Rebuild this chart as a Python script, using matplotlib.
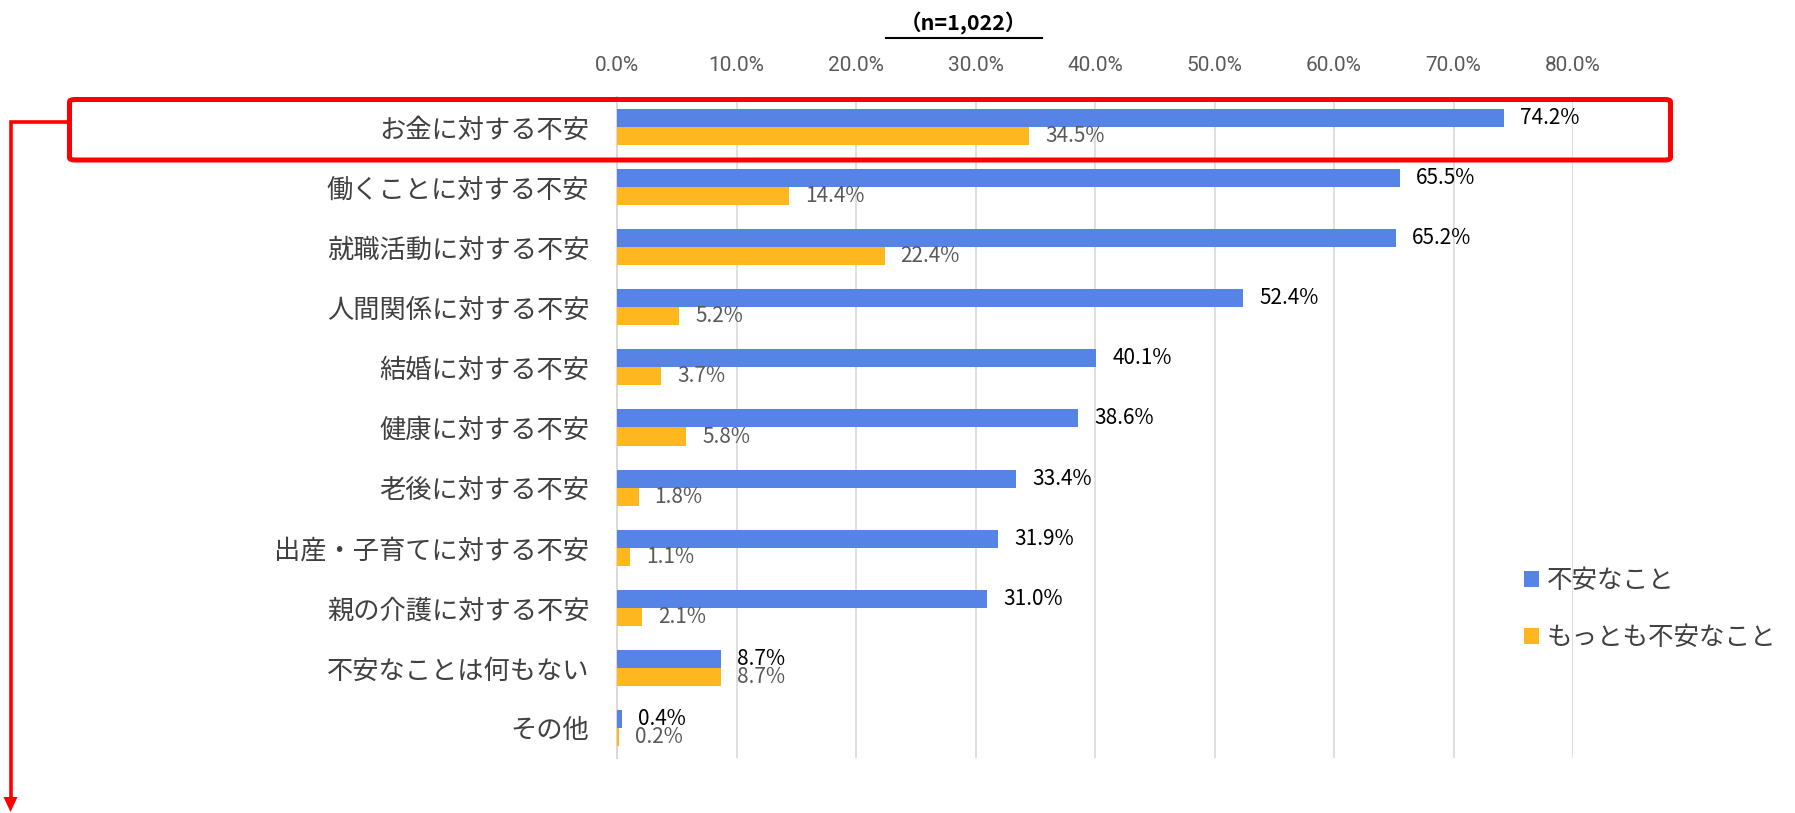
import matplotlib
matplotlib.use("Agg")
import matplotlib.pyplot as plt
import numpy as np
from matplotlib.patches import FancyBboxPatch, Polygon
from matplotlib.lines import Line2D

categories = ["お金に対する不安", "働くことに対する不安", "就職活動に対する不安", "人間関係に対する不安",
              "結婚に対する不安", "健康に対する不安", "老後に対する不安", "出産・子育てに対する不安",
              "親の介護に対する不安", "不安なことは何もない", "その他"]
anxious = [74.2, 65.5, 65.2, 52.4, 40.1, 38.6, 33.4, 31.9, 31.0, 8.7, 0.4]
most_anxious = [34.5, 14.4, 22.4, 5.2, 3.7, 5.8, 1.8, 1.1, 2.1, 8.7, 0.2]
series_names = ["不安なこと", "もっとも不安なこと"]
xticks = [0, 10, 20, 30, 40, 50, 60, 70, 80]
title = "（n=1,022）"

W, H = 1795, 813
DPI = 100
plt.rcParams['font.family'] = ['Noto Sans CJK JP', 'DejaVu Sans']

fig = plt.figure(figsize=(W / DPI, H / DPI), dpi=DPI)

def fx(x):
    return x / W

def fy(y):
    return 1 - y / H

ax_left, ax_right, ax_top, ax_bottom = 617, 1573, 97, 758
ax = fig.add_axes([fx(ax_left), fy(ax_bottom), (ax_right - ax_left) / W, (ax_bottom - ax_top) / H])

BLUE = "#5683E6"
ORANGE = "#FEB71F"
bh = 0.30
y = np.arange(len(categories))
b1 = ax.barh(y - bh / 2, anxious, height=bh, color=BLUE, label=series_names[0], zorder=3)
b2 = ax.barh(y + bh / 2, most_anxious, height=bh, color=ORANGE, label=series_names[1], zorder=3)

ax.set_xlim(0, 80)
ax.set_ylim(len(categories) - 0.5, -0.5)
ax.set_xticks(xticks)
ax.set_xticklabels([f"{v:.1f}%" for v in xticks], family=['Roboto'], fontsize=15, color="#595959")
ax.xaxis.tick_top()
ax.tick_params(axis='x', length=0, pad=16)
ax.set_yticks(y)
ax.set_yticklabels(categories, fontsize=18.9, color="#404040")
ax.tick_params(axis='y', length=0, pad=20)
ax.grid(axis='x', color="#D9D9D9", linewidth=1.2, zorder=0)
for s in ['top', 'right', 'bottom']:
    ax.spines[s].set_visible(False)
ax.spines['left'].set_color("#D9D9D9")
ax.spines['left'].set_linewidth(1.4)

for rect, v in zip(b1, anxious):
    ax.annotate(f"{v:.1f}%", (v, rect.get_y() + rect.get_height() / 2), xytext=(11.5, 0),
                textcoords='offset points', va='center', ha='left', fontsize=15, color="#000000")
for rect, v in zip(b2, most_anxious):
    ax.annotate(f"{v:.1f}%", (v, rect.get_y() + rect.get_height() / 2), xytext=(11.5, 0),
                textcoords='offset points', va='center', ha='left', fontsize=15, color="#595959")

# title
fig.text(fx(963), fy(23), title, ha='center', va='center', fontsize=15.5, fontweight='bold', color="#000000")
fig.add_artist(Line2D([fx(886), fx(1042)], [fy(38), fy(38)], color="black", linewidth=1.5))

# legend
leg = fig.legend(handles=[b1, b2], labels=series_names, loc='upper left',
                 bbox_to_anchor=(fx(1524), fy(568)), frameon=False, fontsize=18.4,
                 handlelength=0.6, handleheight=0.6, handletextpad=0.3, labelspacing=1.2,
                 borderpad=0, borderaxespad=0)
for t in leg.get_texts():
    t.set_color("#404040")

# red highlight box and arrow
box = FancyBboxPatch((fx(69.5), fy(160)), fx(1670.5) - fx(69.5), fy(99.5) - fy(160),
                     boxstyle="round,pad=0,rounding_size=0.003", transform=fig.transFigure,
                     facecolor='none', edgecolor="#FF0000", linewidth=3.6, zorder=10)
fig.add_artist(box)
fig.add_artist(Line2D([fx(67), fx(10.5), fx(10.5)], [fy(122), fy(122), fy(798)],
                      color="#FF0000", linewidth=2.6, solid_joinstyle='miter', zorder=10))
fig.add_artist(Polygon([[fx(3.5), fy(797)], [fx(17.5), fy(797)], [fx(10.5), fy(812)]],
                       closed=True, transform=fig.transFigure, facecolor="#FF0000",
                       edgecolor='none', zorder=10))

fig.savefig("out.png", dpi=DPI)
